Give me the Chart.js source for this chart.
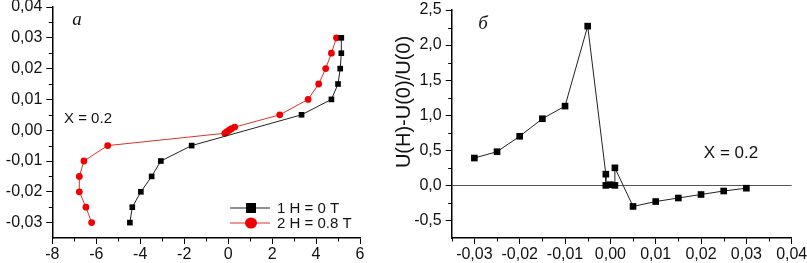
<!DOCTYPE html>
<html>
<head>
<meta charset="utf-8">
<script src="https://cdn.jsdelivr.net/npm/chart.js@4.4.1/dist/chart.umd.min.js"></script>
<style>
  html, body { margin: 0; padding: 0; background: #fff; overflow: hidden; }
  #wrap { position: relative; width: 807px; height: 263px; }
  canvas { position: absolute; top: 0; }
</style>
</head>
<body>
<div id="wrap">
  <canvas id="plotA" width="382" height="263" style="left:0"></canvas>
  <canvas id="plotB" width="425" height="263" style="left:382px"></canvas>
</div>
<script>
'use strict';

// ---- panel "a" : y = field level, x = signal ----
const A_Y_H0 = [-0.03, -0.025, -0.02, -0.015, -0.01, -0.005, 0.005, 0.01, 0.015, 0.02, 0.025, 0.03];
const A_X_H0 = [-4.47, -4.36, -3.97, -3.48, -3.06, -1.66, 3.34, 4.70, 5.00, 5.10, 5.15, 5.15];

const A_Y_H08 = [-0.03, -0.025, -0.02, -0.015, -0.01, -0.005, -0.001, -0.0005, 0, 0.0005, 0.001, 0.005, 0.01, 0.015, 0.02, 0.025, 0.03];
const A_X_H08 = [-6.21, -6.47, -6.77, -6.77, -6.56, -5.48, -0.15, -0.05, 0.05, 0.15, 0.30, 2.35, 3.64, 4.12, 4.44, 4.70, 4.93];

const A_X_TICKS = [-8, -6, -4, -2, 0, 2, 4, 6];
const A_X_MINOR = [-7, -5, -3, -1, 1, 3, 5];
const A_Y_TICKS = [-0.03, -0.02, -0.01, 0, 0.01, 0.02, 0.03, 0.04];
const A_Y_MINOR = [-0.025, -0.015, -0.005, 0.005, 0.015, 0.025, 0.035];

// ---- panel "б" : relative change U(H)-U(0)/U(0) ----
const B_X = [-0.03, -0.025, -0.02, -0.015, -0.01, -0.005, -0.001, -0.001, 0, 0.001, 0.001, 0.005, 0.01, 0.015, 0.02, 0.025, 0.03];
const B_Y = [0.39, 0.48, 0.70, 0.95, 1.13, 2.27, 0.16, 0.0, 0.01, 0.0, 0.25, -0.30, -0.23, -0.18, -0.13, -0.08, -0.04];

const B_X_TICKS = [-0.03, -0.02, -0.01, 0, 0.01, 0.02, 0.03, 0.04];
const B_X_MINOR = [-0.035, -0.025, -0.015, -0.005, 0.005, 0.015, 0.025, 0.035];
const B_Y_TICKS = [-0.5, 0, 0.5, 1, 1.5, 2, 2.5];
const B_Y_MINOR = [-0.25, 0.25, 0.75, 1.25, 1.75, 2.25];

const FONT = "'Liberation Sans', Arial, sans-serif";
const SERIF = "'Liberation Serif', 'DejaVu Serif', serif";

function pts(xs, ys) {
    return xs.map((x, i) => ({ x: x, y: ys[i] }));
}

function comma(digits) {
    return v => v.toFixed(digits).replace('.', ',');
}

// builds one linear axis with fixed tick list and fixed thickness
function axis(pos, min, max, tickList, fmt, thickness, extra) {
    const vertical = pos === 'left';
    return Object.assign({
        type: 'linear',
        position: pos,
        min: min,
        max: max,
        afterBuildTicks: s => { s.ticks = tickList.map(v => ({ value: v })); },
        afterFit: s => {
            if (vertical) {
                s.width = thickness;
                s.paddingTop = 0;
                s.paddingBottom = 0;
            } else {
                s.height = thickness;
                s.paddingLeft = 0;
                s.paddingRight = 0;
            }
        },
        border: { display: true, color: '#000', width: 1.5 },
        grid: { drawOnChartArea: false, drawTicks: true, tickLength: 6, tickColor: '#000', tickWidth: 1 },
        ticks: {
            color: '#111',
            font: { family: FONT, size: 16 },
            padding: vertical ? 4 : 1,
            maxRotation: 0,
            autoSkip: false,
            callback: fmt
        }
    }, extra || {});
}

// short minor ticks, drawn outward like the major ones
const minorTicks = {
    id: 'minorTicks',
    afterDraw(chart, args, opts) {
        const ctx = chart.ctx;
        const sx = chart.scales.x, sy = chart.scales.y;
        ctx.save();
        ctx.strokeStyle = '#000';
        ctx.lineWidth = 1;
        ctx.beginPath();
        for (const v of opts.x) {
            const px = Math.round(sx.getPixelForValue(v)) + 0.5;
            ctx.moveTo(px, sx.top);
            ctx.lineTo(px, sx.top + 3.5);
        }
        for (const v of opts.y) {
            const py = Math.round(sy.getPixelForValue(v)) + 0.5;
            ctx.moveTo(sy.right, py);
            ctx.lineTo(sy.right - 3.5, py);
        }
        ctx.stroke();
        ctx.restore();
    }
};

// free text labels (panel letter, "X = 0.2", axis title)
const labels = {
    id: 'labels',
    afterDraw(chart, args, opts) {
        const ctx = chart.ctx;
        for (const t of opts.items) {
            ctx.save();
            ctx.font = t.font;
            ctx.fillStyle = '#111';
            ctx.textAlign = 'center';
            ctx.textBaseline = 'middle';
            ctx.translate(t.x, t.y);
            if (t.rot) ctx.rotate(t.rot);
            ctx.fillText(t.text, 0, 0);
            ctx.restore();
        }
    }
};

// legend box inside panel "a"
const innerLegend = {
    id: 'innerLegend',
    afterDraw(chart, args, opts) {
        const ctx = chart.ctx;
        chart.data.datasets.forEach((ds, i) => {
            const y = opts.y + i * opts.gap;
            ctx.save();
            ctx.strokeStyle = ds.borderColor;
            ctx.lineWidth = 1;
            ctx.beginPath();
            ctx.moveTo(opts.x, y);
            ctx.lineTo(opts.x + 40, y);
            ctx.stroke();
            ctx.fillStyle = ds.backgroundColor;
            const cx = opts.x + 21;
            if (ds.pointStyle === 'rect') {
                ctx.fillRect(cx - 5, y - 5, 10, 10);
            } else {
                ctx.beginPath();
                ctx.ellipse(cx, y, 6, 5.5, 0, 0, Math.PI * 2);
                ctx.fill();
            }
            ctx.fillStyle = '#111';
            ctx.font = '15px ' + FONT;
            ctx.textBaseline = 'middle';
            ctx.fillText(ds.label, opts.x + 47, y + 0.5);
            ctx.restore();
        });
    }
};

const common = {
    responsive: false,
    animation: false,
    events: [],
    clip: false
};

new Chart(document.getElementById('plotA'), {
    type: 'scatter',
    data: {
        datasets: [
            {
                label: '1 H = 0 T',
                data: pts(A_X_H0, A_Y_H0),
                showLine: true,
                borderColor: '#222',
                borderWidth: 1,
                backgroundColor: '#000',
                pointStyle: 'rect',
                pointRadius: 4,
                pointBorderWidth: 0
            },
            {
                label: '2 H = 0.8 T',
                data: pts(A_X_H08, A_Y_H08),
                showLine: true,
                borderColor: '#e0302a',
                borderWidth: 1,
                backgroundColor: '#f00000',
                pointStyle: 'circle',
                pointRadius: 3.4,
                pointBorderWidth: 0
            }
        ]
    },
    options: Object.assign({}, common, {
        layout: { padding: { top: 7, right: 22, left: 0, bottom: 0 } },
        plugins: {
            legend: { display: false },
            tooltip: { enabled: false },
            minorTicks: { x: A_X_MINOR, y: A_Y_MINOR },
            innerLegend: { x: 230, y: 208, gap: 15 },
            labels: {
                items: [
                    { text: 'a', x: 77, y: 20, font: 'italic 19px ' + SERIF },
                    { text: 'X = 0.2', x: 88, y: 119, font: '15px ' + FONT }
                ]
            }
        },
        scales: {
            x: axis('bottom', -8, 6, A_X_TICKS, v => String(v), 25),
            y: axis('left', -0.035, 0.04, A_Y_TICKS, comma(2), 52.3)
        }
    }),
    plugins: [minorTicks, labels, innerLegend]
});

new Chart(document.getElementById('plotB'), {
    type: 'scatter',
    data: {
        datasets: [
            {
                label: 'U(H)-U(0)/U(0)',
                data: pts(B_X, B_Y),
                showLine: true,
                borderColor: '#222',
                borderWidth: 1,
                backgroundColor: '#000',
                pointStyle: 'rect',
                pointRadius: 4.7,
                pointBorderWidth: 0
            }
        ]
    },
    options: Object.assign({}, common, {
        layout: { padding: { top: 10, right: 15.3, left: 0, bottom: 0 } },
        plugins: {
            legend: { display: false },
            tooltip: { enabled: false },
            minorTicks: { x: B_X_MINOR, y: B_Y_MINOR },
            labels: {
                items: [
                    { text: '\u0431', x: 101, y: 24, font: 'italic 19px ' + SERIF },
                    { text: 'X = 0.2', x: 349, y: 153, font: '17px ' + FONT },
                    { text: 'U(H)-U(0)/U(0)', x: 22, y: 102, font: '20px ' + FONT, rot: -Math.PI / 2 }
                ]
            }
        },
        scales: {
            x: axis('bottom', -0.035, 0.04, B_X_TICKS, comma(2), 25),
            y: axis('left', -0.75, 2.5, B_Y_TICKS, comma(1), 69.7, {
                grid: {
                    drawOnChartArea: true,
                    drawTicks: true,
                    tickLength: 6,
                    tickColor: '#000',
                    tickWidth: 1,
                    lineWidth: 1,
                    color: c => (c.tick && c.tick.value === 0) ? '#555' : 'rgba(0,0,0,0)'
                }
            })
        }
    }),
    plugins: [minorTicks, labels]
});
</script>
</body>
</html>
